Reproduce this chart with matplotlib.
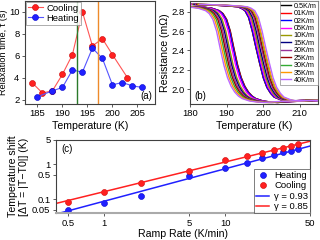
import numpy as np
import matplotlib
matplotlib.use("Agg")
import matplotlib.pyplot as plt

# ---------------- data ----------------
# (a) relaxation time
T_cool = [184, 186, 188, 190, 192, 194, 196, 198, 200, 203]
tau_cool = [3.5, 2.6, 2.8, 4.3, 6.1, 10.0, 6.9, 7.55, 6.1, 4.0]
T_heat = [185, 188, 190, 192, 194, 196, 198, 200, 202, 204, 206]
tau_heat = [2.25, 2.8, 3.1, 4.7, 4.5, 6.7, 5.75, 3.35, 3.55, 3.25, 3.1]
T_green = 192.9
T_orange = 197.2

# (c) temperature shift vs ramp rate
rates = [0.5, 1, 2, 5, 10, 15, 20, 25, 30, 35, 40]
dT_heat = [0.049, 0.08, 0.125, 0.45, 0.76, 1.12, 1.53, 1.82, 2.2, 2.34, 2.74]
dT_cool = [0.085, 0.16, 0.29, 0.65, 1.31, 1.7, 2.11, 2.5, 2.92, 3.39, 3.85]
gamma_heat = 0.93
gamma_cool = 0.85

# (b) resistance curves: reference (0.5 K/min) branches
Tb_cool = [180, 184, 186, 188, 189, 190, 191, 192, 193, 194, 195, 196, 197, 198, 200, 202, 204, 206, 208, 215]
Rb_cool = [2.85, 2.845, 2.835, 2.81, 2.78, 2.72, 2.6, 2.42, 2.25, 2.12, 2.03, 1.97, 1.93, 1.905, 1.88, 1.87, 1.865, 1.87, 1.875, 1.885]
Tb_heat = [180, 185, 190, 193, 194, 195, 196, 197, 198, 199, 200, 201, 202, 203, 205, 207, 210, 215]
Rb_heat = [2.875, 2.87, 2.86, 2.85, 2.835, 2.81, 2.74, 2.6, 2.43, 2.27, 2.12, 2.02, 1.96, 1.92, 1.89, 1.88, 1.885, 1.89]
rate_labels = ["0.5K/m", "01K/m", "02K/m", "05K/m", "10K/m", "15K/m",
               "20K/m", "25K/m", "30K/m", "35K/m", "40K/m"]
rate_colors = ["#000000", "#ff0000", "#0000ff", "#ff00ff", "#999900", "#000080",
               "#993399", "#990000", "#33aa33", "#ff9900", "#bb66ff"]

# ---------------- figure ----------------
plt.rcParams['font.family'] = ['Liberation Sans', 'DejaVu Sans']
fig = plt.figure(figsize=(3.2, 2.4), dpi=100)

spine_col = "#404040"
TICK = 6.8
LAB = 7.6

def style(ax):
    for s in ax.spines.values():
        s.set_color(spine_col)
        s.set_linewidth(0.8)
    ax.tick_params(labelsize=TICK, length=2.5, width=0.6, color=spine_col, pad=1.5)

# (a)
axa = fig.add_axes([0.078, 0.567, 0.406, 0.429])
axa.plot(T_cool, tau_cool, '-', color='#ff5555', lw=0.8, marker='o', ms=4.3,
         mfc='#ff2020', mec='#cc0000', mew=0.4, label='Cooling')
axa.plot(T_heat, tau_heat, '-', color='#5555ff', lw=0.8, marker='o', ms=4.3,
         mfc='#2020ff', mec='#0000cc', mew=0.4, label='Heating')
axa.axvline(T_green, color='#2a7a2a', lw=1.0)
axa.axvline(T_orange, color='#ee8a2a', lw=1.0)
axa.set_xlim(182.5, 208.5)
axa.set_ylim(1.6, 11)
axa.set_xticks([185, 190, 195, 200, 205])
axa.set_yticks([2, 4, 6, 8, 10])
axa.set_xlabel("Temperature (K)", fontsize=LAB, labelpad=2)
axa.set_ylabel("Relaxation time, τ (s)", fontsize=6.6, labelpad=1)
axa.text(0.98, 0.03, "(a)", transform=axa.transAxes, ha='right', va='bottom', fontsize=7)
leg = axa.legend(loc='upper left', fontsize=6.8, frameon=True, fancybox=False,
                 borderpad=0.2, handlelength=1.6, handletextpad=0.4,
                 labelspacing=0.1, borderaxespad=0.1)
leg.get_frame().set_edgecolor('#888888')
leg.get_frame().set_linewidth(0.6)
style(axa)

# (b)
axb = fig.add_axes([0.594, 0.567, 0.40, 0.429])
Tbc = np.array(Tb_cool)
Tbh = np.array(Tb_heat)
for i in range(len(rates)):
    sc = dT_cool[i] - dT_cool[0]
    sh = dT_heat[i] - dT_heat[0]
    axb.plot(Tbc - sc, Rb_cool, color=rate_colors[i], lw=1.0, label=rate_labels[i])
    axb.plot(Tbh + sh, Rb_heat, color=rate_colors[i], lw=1.0)
axb.set_xlim(180, 215)
axb.set_ylim(1.85, 2.91)
axb.set_xticks([180, 190, 200, 210])
axb.set_yticks([2.0, 2.2, 2.4, 2.6, 2.8])
axb.set_yticklabels(["2.0", "2.2", "2.4", "2.6", "2.8"])
axb.set_xlabel("Temperature (K)", fontsize=LAB, labelpad=2)
axb.set_ylabel("Resistance (mΩ)", fontsize=LAB, labelpad=1)
axb.text(0.03, 0.03, "(b)", transform=axb.transAxes, ha='left', va='bottom', fontsize=7)
legb = axb.legend(loc='upper right', fontsize=5.2, frameon=True, fancybox=False,
                  borderpad=0.2, handlelength=1.3, handletextpad=0.4,
                  labelspacing=0.05, borderaxespad=0.05)
legb.get_frame().set_edgecolor('#888888')
legb.get_frame().set_linewidth(0.6)
style(axb)

# (c)
axc = fig.add_axes([0.175, 0.112, 0.794, 0.305])
r = np.array(rates, dtype=float)
A_h = np.exp(np.mean(np.log(dT_heat) - gamma_heat * np.log(r)))
A_c = np.exp(np.mean(np.log(dT_cool) - gamma_cool * np.log(r)))
xf = np.array([0.4, 50.0])
axc.plot(r, dT_heat, 'o', ms=4.3, mfc='#2020ff', mec='#0000cc', mew=0.4, label='Heating')
axc.plot(r, dT_cool, 'o', ms=4.3, mfc='#ff2020', mec='#cc0000', mew=0.4, label='Cooling')
axc.plot(xf, A_h * xf ** gamma_heat, color='#2020ff', lw=1.1, label='γ = 0.93')
axc.plot(xf, A_c * xf ** gamma_cool, color='#ff2020', lw=1.1, label='γ = 0.85')
axc.set_xscale('log')
axc.set_yscale('log')
axc.set_xlim(0.4, 50)
axc.set_ylim(0.04, 5)
axc.set_xticks([0.5, 1, 5, 10, 50])
axc.set_xticklabels(["0.5", "1", "5", "10", "50"])
axc.set_yticks([0.05, 0.1, 0.5, 1, 5])
axc.set_yticklabels(["0.05", "0.1", "0.5", "1", "5"])
axc.minorticks_off()
axc.set_xlabel("Ramp Rate (K/min)", fontsize=LAB, labelpad=1)
axc.set_ylabel("Temperature shift\n[ΔT = |T−T0|] (K)", fontsize=LAB, labelpad=2)
axc.text(0.02, 0.95, "(c)", transform=axc.transAxes, ha='left', va='top', fontsize=7)
legc = axc.legend(loc='lower right', fontsize=6.8, frameon=True, fancybox=False,
                  borderpad=0.2, handlelength=1.4, handletextpad=0.5,
                  labelspacing=0.15, borderaxespad=0.0)
legc.get_frame().set_edgecolor('#444444')
legc.get_frame().set_linewidth(0.6)
style(axc)
axc.spines['bottom'].set_color('#aaaaaa')
axc.spines['bottom'].set_linewidth(1.5)

fig.savefig("out.png", dpi=100)
